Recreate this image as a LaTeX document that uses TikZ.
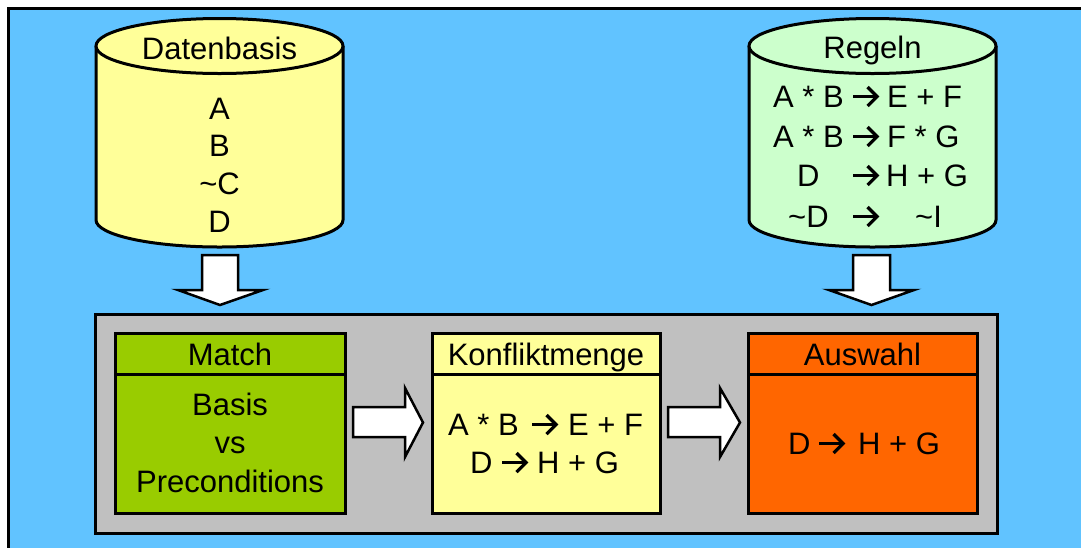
\documentclass[tikz,border=0pt]{standalone}
\usepackage{fontspec}
\setmainfont{Liberation Sans}
\definecolor{bgblue}{HTML}{61C3FF}
\definecolor{cylyellow}{HTML}{FFFF99}
\definecolor{cylgreen}{HTML}{CCFFCC}
\definecolor{matchgreen}{HTML}{99CC00}
\definecolor{konfyellow}{HTML}{FFFF99}
\definecolor{auswahlorange}{HTML}{FF6600}
\definecolor{panelgray}{HTML}{C0C0C0}
\begin{document}
\begin{tikzpicture}[x=1pt,y=-1pt,
  txt/.style={font=\fontsize{31}{37}\selectfont, inner sep=0pt, anchor=base},
  txtw/.style={txt, anchor=base west},
  box/.style={draw, line width=3pt, inner sep=0pt, outer sep=0pt},
  blockarrow/.style={draw, fill=white, line width=2.5pt, line join=miter},
  cyl/.style={draw, line width=3pt},
  rarr/.pic={\draw[line width=3.2pt, line cap=butt] (0,-10.5) -- (23,-10.5);
             \draw[line width=3.2pt, line join=miter, miter limit=10] (14.5,-20) -- (24,-10.5) -- (14.5,-1);}]
\useasboundingbox (0,0) rectangle (1081,547);
\fill[white] (0,0) rectangle (1081,547);
\draw[line width=3.5pt, fill=bgblue] (8.5,8.5) rectangle (1100,570);

% left cylinder
\filldraw[cyl, fill=cylyellow] (96,46) -- (96,220) .. controls (96,234.9) and (151.3,247) .. (219.5,247) .. controls (287.7,247) and (343,234.9) .. (343,220) -- (343,46);
\filldraw[cyl, fill=cylyellow] (219.5,46) ellipse [x radius=123.5pt, y radius=27.5pt];
% right cylinder
\filldraw[cyl, fill=cylgreen] (749,46) -- (749,220) .. controls (749,234.9) and (804.3,247) .. (872.5,247) .. controls (940.7,247) and (996,234.9) .. (996,220) -- (996,46);
\filldraw[cyl, fill=cylgreen] (872.5,46) ellipse [x radius=123.5pt, y radius=27.5pt];

\node[txt] (db) at (219.5,59) {Datenbasis};
\node[txt] (dbA) at (219.5,119) {A};
\node[txt] (dbB) at (219.5,156.5) {B};
\node[txt] (dbC) at (219.5,194) {\textasciitilde C};
\node[txt] (dbD) at (219.5,232) {D};

\node[txt] (rg) at (872.5,58) {Regeln};
\node[txtw] (r1a) at (773,107) {A * B};
\pic (r1b) at (853,107) {rarr};
\node[txtw] (r1c) at (887,107) {E + F};
\node[txtw] (r2a) at (773,147) {A * B};
\pic (r2b) at (853,147) {rarr};
\node[txtw] (r2c) at (887,147) {F * G};
\node[txtw] (r3a) at (797,186) {D};
\pic (r3b) at (853,186) {rarr};
\node[txtw] (r3c) at (886,186) {H + G};
\node[txtw] (r4a) at (788,227) {\textasciitilde D};
\pic (r4b) at (853,227) {rarr};
\node[txtw] (r4c) at (915,227) {\textasciitilde I};

% down arrows
\draw[blockarrow] (202,255) -- (238,255) -- (238,290) -- (263,290) -- (220,305) -- (178,290) -- (202,290) -- cycle;
\draw[blockarrow] (853,255) -- (890,255) -- (890,290) -- (914,290) -- (871.5,305) -- (829,290) -- (853,290) -- cycle;

% panel
\node[box, fill=panelgray, minimum width=902pt, minimum height=219pt] (panel) at (546,423.5) {};

% boxes
\node[box, fill=matchgreen, minimum width=230pt, minimum height=180pt] (match) at (230,423) {};
\node[box, fill=konfyellow, minimum width=228pt, minimum height=180pt] (konf) at (546,423) {};
\node[box, fill=auswahlorange, minimum width=229pt, minimum height=180pt] (ausw) at (862.5,423) {};
\draw[line width=3pt] (match.west |- 0,374) -- (match.east |- 0,374);
\draw[line width=3pt] (konf.west |- 0,374) -- (konf.east |- 0,374);
\draw[line width=3pt] (ausw.west |- 0,374) -- (ausw.east |- 0,374);

\node[txt] (mh) at (230,365) {Match};
\node[txt] (m1) at (230,415) {Basis};
\node[txt] (m2) at (230,453.5) {vs};
\node[txt] (m3) at (230,492) {Preconditions};

\node[txt] (kh) at (546,365) {Konfliktmenge};
\node[txtw] (k1a) at (448,435) {A * B};
\pic (k1b) at (532,435) {rarr};
\node[txtw] (k1c) at (568,435) {E + F};
\node[txtw] (k2a) at (470,473) {D};
\pic (k2b) at (502,473) {rarr};
\node[txtw] (k2c) at (537,473) {H + G};

\node[txt] (ah) at (862.5,365) {Auswahl};
\node[txtw] (a1a) at (788,454) {D};
\pic (a1b) at (819,454) {rarr};
\node[txtw] (a1c) at (858,454) {H + G};

% right arrows
\draw[blockarrow] (353,407) -- (405,407) -- (405,388) -- (423,422.5) -- (405,457) -- (405,437) -- (353,437) -- cycle;
\draw[blockarrow] (668,407) -- (720,407) -- (720,388) -- (740,422.5) -- (720,457) -- (720,437) -- (668,437) -- cycle;
\end{tikzpicture}
\end{document}
